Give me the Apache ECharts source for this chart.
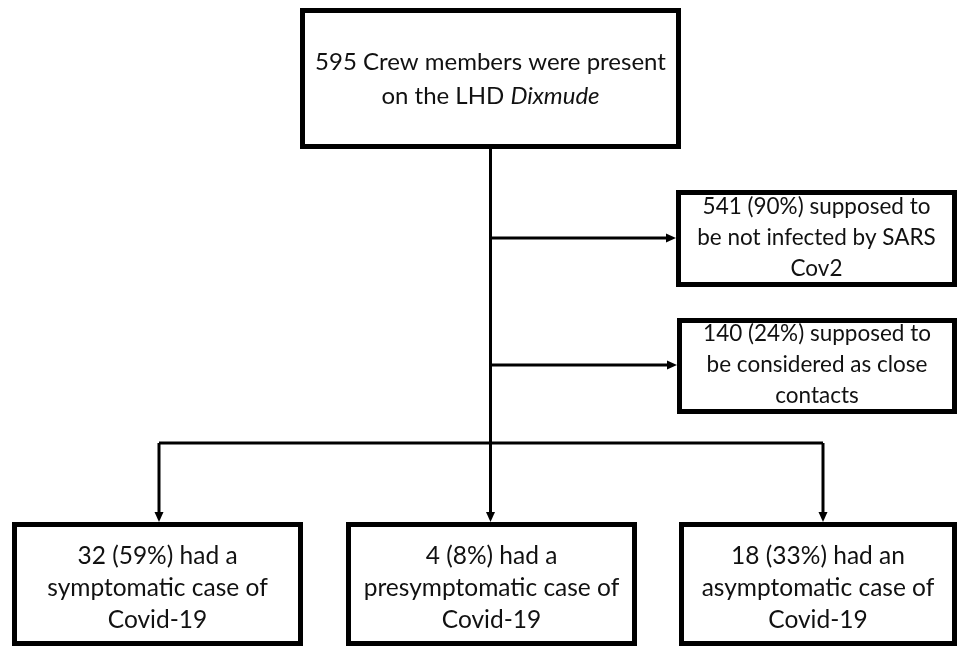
<!DOCTYPE html>
<html>
<head>
<meta charset="utf-8">
<script src="https://cdn.jsdelivr.net/npm/echarts@6/dist/echarts.min.js"></script>
<style>
  html, body { margin: 0; padding: 0; background: #fff; }
  #chart { width: 957px; height: 646px; }
</style>
</head>
<body>
<div id="chart"></div>
<script>
// node texts (lines), {i|...} marks italic
const topLabel = ["595 Crew members were present", "on the LHD {i|Dixmude}"];
const sideLabels = [
  ["541 (90%) supposed to", "be not infected by SARS", "Cov2"],
  ["140 (24%) supposed to", "be considered as close", "contacts"]
];
const bottomLabels = [
  ["32 (59%) had a", "symptomatic case of", "Covid-19"],
  ["4 (8%) had a", "presymptomatic case of", "Covid-19"],
  ["18 (33%) had an", "asymptomatic case of", "Covid-19"]
];

// box layout in pixel units [x0, y0, x1, y1]
const topBox = [300, 8, 681, 149];
const sideBoxes = [[676, 190, 957, 287], [677, 318, 957, 414]];
const bottomBoxes = [[12, 522, 303, 646], [346, 522, 637, 646], [679, 522, 957, 646]];
const dropX = [159, 491, 823];
const busY = 443;

const W = 957, H = 646;
const FONT = "Lato, 'Open Sans', sans-serif";

const nodes = [];
nodes.push({ box: topBox, lines: topLabel, size: 24, lh: 34, dy: 1 });
sideBoxes.forEach((b, i) => nodes.push({ box: b, lines: sideLabels[i], size: 22.5, lh: 31, dy: -1 }));
bottomBoxes.forEach((b, i) => nodes.push({ box: b, lines: bottomLabels[i], size: 24.5, lh: 32, dy: 4 }));

// connectors built from the boxes
const trunkX = (topBox[0] + topBox[2]) / 2;
const links = [];
links.push({ pts: [[trunkX, topBox[3]], [trunkX, bottomBoxes[1][1]]], arrow: true });
sideBoxes.forEach(b => {
  const y = Math.round((b[1] + b[3]) / 2) - 1;
  links.push({ pts: [[trunkX, y], [b[0], y]], arrow: true });
});
links.push({ pts: [[dropX[0], busY], [dropX[2], busY]], arrow: false });
dropX.forEach((x, i) => {
  if (i === 1) return;
  links.push({ pts: [[x, busY], [x, bottomBoxes[i][1]]], arrow: true });
});

const chart = echarts.init(document.getElementById("chart"));

function renderBox(params, api) {
  const n = nodes[params.dataIndex];
  const p0 = api.coord([n.box[0], n.box[1]]);
  const p1 = api.coord([n.box[2], n.box[3]]);
  const lw = 5;
  const cx = (p0[0] + p1[0]) / 2;
  const cy = (p0[1] + p1[1]) / 2 + n.dy;
  return {
    type: "group",
    children: [
      {
        type: "rect",
        shape: { x: p0[0] + lw / 2, y: p0[1] + lw / 2, width: p1[0] - p0[0] - lw, height: p1[1] - p0[1] - lw },
        style: { fill: "#fff", stroke: "#000", lineWidth: lw }
      },
      {
        type: "text",
        x: cx, y: cy,
        style: {
          text: n.lines.join("\n"),
          x: 0, y: 0,
          align: "center", verticalAlign: "middle",
          fontFamily: FONT, fontSize: n.size, lineHeight: n.lh, fill: "#111",
          rich: { i: { fontStyle: "italic", fontFamily: FONT, fontSize: n.size, lineHeight: n.lh, fill: "#111" } }
        }
      }
    ]
  };
}

function renderLink(params, api) {
  const l = links[params.dataIndex];
  const pts = l.pts.map(p => api.coord(p));
  const children = [{
    type: "polyline",
    shape: { points: pts },
    style: { stroke: "#000", lineWidth: 3, fill: null }
  }];
  if (l.arrow) {
    const a = pts[pts.length - 2], b = pts[pts.length - 1];
    const ang = Math.atan2(b[1] - a[1], b[0] - a[0]);
    const len = 10, half = 4.5;
    const bx = b[0] - len * Math.cos(ang), by = b[1] - len * Math.sin(ang);
    const nx = -Math.sin(ang) * half, ny = Math.cos(ang) * half;
    children[0].shape.points = pts.slice(0, -1).concat([[bx, by]]);
    children.push({
      type: "polygon",
      shape: { points: [[b[0], b[1]], [bx + nx, by + ny], [bx - nx, by - ny]] },
      style: { fill: "#000" }
    });
  }
  return { type: "group", children: children };
}

chart.setOption({
  animation: false,
  grid: { left: 0, right: 0, top: 0, bottom: 0 },
  xAxis: { type: "value", min: 0, max: W, show: false },
  yAxis: { type: "value", min: 0, max: H, inverse: true, show: false },
  series: [
    {
      type: "custom", name: "links", z: 1,
      renderItem: renderLink,
      data: links.map((l, i) => [i])
    },
    {
      type: "custom", name: "nodes", z: 2,
      renderItem: renderBox,
      data: nodes.map((n, i) => [i])
    }
  ]
});
</script>
</body>
</html>
